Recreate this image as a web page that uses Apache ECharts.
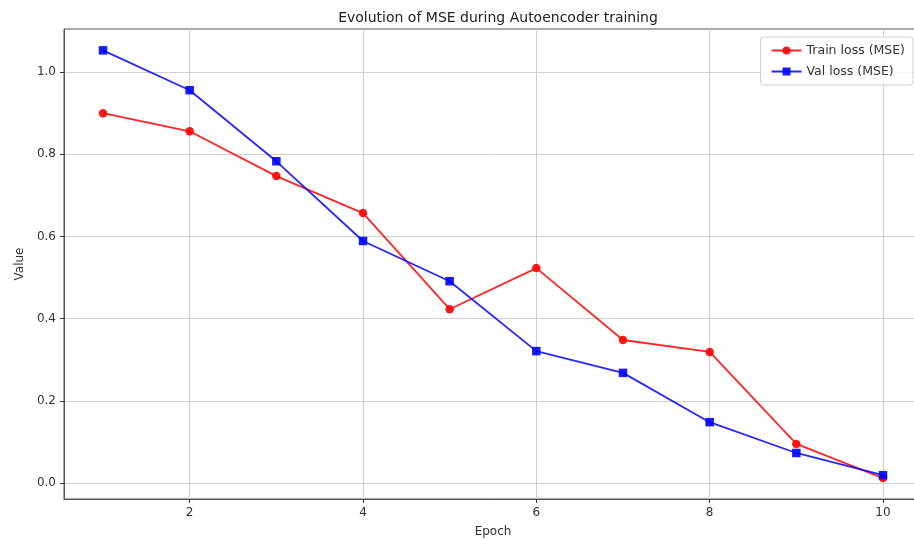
<!DOCTYPE html>
<html>
<head>
<meta charset="utf-8">
<script src="https://cdn.jsdelivr.net/npm/echarts@6/dist/echarts.min.js"></script>
<style>
  html, body { margin: 0; padding: 0; background: #fff; }
  #chart { width: 914px; height: 540px; }
</style>
</head>
<body>
<div id="chart"></div>
<script>
  var epochs = [1, 2, 3, 4, 5, 6, 7, 8, 9, 10]
  var trainLoss = [0.900, 0.856, 0.747, 0.657, 0.423, 0.523, 0.348, 0.319, 0.095, 0.012]
  var valLoss = [1.053, 0.956, 0.783, 0.589, 0.491, 0.321, 0.268, 0.148, 0.073, 0.019]
  var xTicks = [2, 4, 6, 8, 10]
  var yTicks = [0.0, 0.2, 0.4, 0.6, 0.8, 1.0]

  function pairs (xs, ys) {
    return xs.map(function (x, i) { return [x, ys[i]] })
  }

  var font = 'DejaVu Sans'
  var chart = echarts.init(document.getElementById('chart'))
  var option = {
    animation: false,
    title: {
      text: 'Evolution of MSE during Autoencoder training',
      left: 493,
      top: 6,
      textAlign: 'center',
      textStyle: { fontFamily: font, fontSize: 14, fontWeight: 'normal', color: '#222' }
    },
    legend: {
      orient: 'vertical',
      right: 1,
      top: 37,
      padding: [7, 8, 7, 10],
      itemGap: 8,
      itemWidth: 30,
      itemHeight: 10,
      borderColor: '#d0d0d0',
      borderWidth: 1,
      borderRadius: 3,
      backgroundColor: 'rgba(255,255,255,0.8)',
      textStyle: { fontFamily: font, fontSize: 12.5, color: '#333' },
      data: ['Train loss (MSE)', 'Val loss (MSE)']
    },
    grid: {
      left: 64,
      top: 29,
      bottom: 41,
      right: -8,
      outerBoundsMode: 'none',
      show: true,
      borderColor: '#555',
      borderWidth: 1
    },
    xAxis: {
      type: 'value',
      min: 0.55,
      max: 10.45,
      name: 'Epoch',
      nameLocation: 'middle',
      nameGap: 27,
      nameTextStyle: { fontFamily: font, fontSize: 12, color: '#333' },
      axisLine: { show: true, onZero: false, lineStyle: { color: '#555' } },
      axisTick: { show: true, length: 4, lineStyle: { color: '#333' }, customValues: xTicks },
      axisLabel: { fontFamily: font, fontSize: 12, color: '#333', margin: 8, customValues: xTicks },
      splitLine: { show: true, lineStyle: { color: '#d0d0d0', width: 1 } }
    },
    yAxis: {
      type: 'value',
      min: -0.039,
      max: 1.105,
      name: 'Value',
      nameLocation: 'middle',
      nameGap: 34,
      nameTextStyle: { fontFamily: font, fontSize: 12, color: '#333' },
      axisLine: { show: true, lineStyle: { color: '#555' } },
      axisTick: { show: true, length: 4, lineStyle: { color: '#333' }, customValues: yTicks },
      axisLabel: {
        fontFamily: font, fontSize: 12, color: '#333', margin: 8,
        customValues: yTicks,
        formatter: function (v) { return v.toFixed(1) }
      },
      splitLine: { show: true, lineStyle: { color: '#d0d0d0', width: 1 } }
    },
    series: [
      {
        name: 'Train loss (MSE)',
        type: 'line',
        data: pairs(epochs, trainLoss),
        symbol: 'circle',
        symbolSize: 8.5,
        lineStyle: { color: 'rgba(255,0,0,0.85)', width: 1.8 },
        itemStyle: { color: 'rgba(255,0,0,0.9)' },
        z: 3
      },
      {
        name: 'Val loss (MSE)',
        type: 'line',
        data: pairs(epochs, valLoss),
        symbol: 'rect',
        symbolSize: 8.5,
        lineStyle: { color: 'rgba(0,0,255,0.85)', width: 1.8 },
        itemStyle: { color: 'rgba(0,0,255,0.9)' },
        z: 4
      }
    ]
  }
  chart.setOption(option)
</script>
</body>
</html>
